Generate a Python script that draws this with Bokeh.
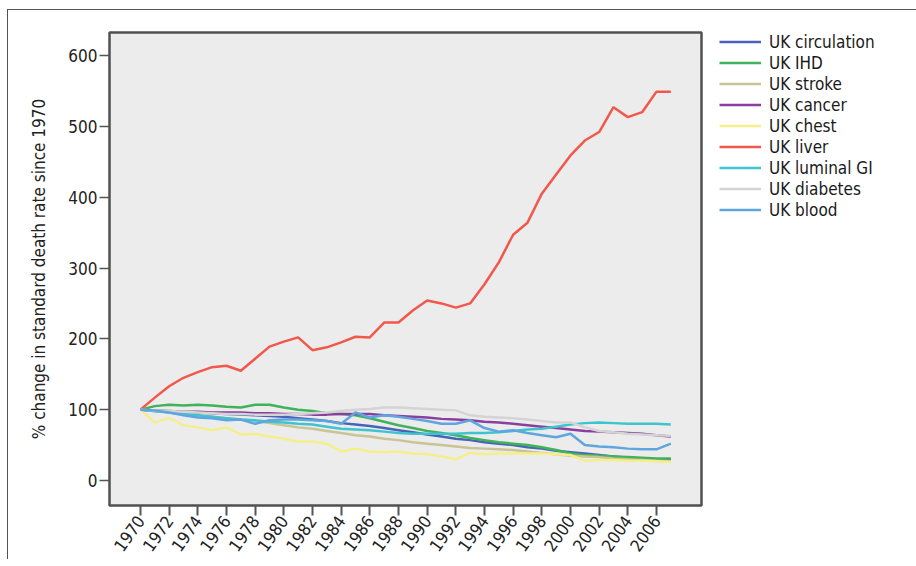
import math
from bokeh.plotting import figure
from bokeh.models import Legend, LegendItem, FixedTicker, Range1d
from bokeh.embed import file_html
from bokeh.resources import INLINE

years = list(range(1970, 2008))

circulation = [100, 98, 97, 96, 96, 95, 94, 93, 92, 91, 90, 88, 86, 84, 81, 79, 77, 74, 71, 68,
               65, 62, 59, 57, 54, 52, 50, 47, 45, 42, 40, 38, 36, 34, 32, 31, 30, 30]
ihd = [100, 105, 107, 106, 107, 106, 104, 103, 107, 107, 103, 100, 98, 95, 94, 92, 88, 83, 78, 74,
       70, 67, 64, 60, 57, 54, 52, 50, 47, 43, 38, 36, 35, 34, 33, 32, 31, 31]
stroke = [100, 98, 96, 94, 92, 90, 88, 86, 84, 81, 78, 75, 73, 70, 67, 64, 62, 59, 57, 54,
          52, 50, 48, 46, 45, 44, 43, 41, 39, 37, 35, 34, 33, 31, 30, 29, 28, 27]
cancer = [100, 99, 98, 97, 97, 96, 96, 96, 95, 95, 94, 94, 93, 93, 94, 94, 94, 92, 91, 90,
          89, 87, 86, 85, 83, 82, 80, 78, 76, 74, 72, 70, 69, 68, 67, 66, 64, 62]
chest = [100, 82, 88, 78, 75, 71, 75, 65, 66, 62, 59, 55, 55, 52, 41, 45, 41, 40, 41, 38,
         37, 34, 30, 39, 37, 38, 38, 38, 38, 37, 36, 28, 29, 29, 28, 28, 27, 26]
liver = [100, 117, 133, 145, 153, 160, 162, 155, 172, 189, 196, 202, 184, 188, 195, 203, 202, 223, 223, 240,
         254, 250, 244, 250, 277, 308, 347, 364, 405, 432, 459, 480, 492, 527, 513, 520, 549, 549]
luminal_gi = [100, 98, 96, 94, 92, 90, 88, 86, 85, 83, 82, 80, 79, 76, 73, 72, 71, 69, 67, 66,
              66, 66, 66, 67, 67, 68, 70, 72, 73, 76, 79, 81, 82, 81, 80, 80, 80, 79]
diabetes = [100, 99, 98, 97, 96, 95, 94, 94, 93, 93, 93, 94, 95, 96, 98, 100, 101, 103, 103, 102,
            101, 100, 99, 92, 90, 89, 88, 86, 84, 82, 82, 75, 70, 68, 66, 65, 64, 63]
blood = [100, 99, 96, 92, 89, 88, 85, 86, 80, 85, 86, 86, 85, 84, 80, 96, 89, 92, 90, 87,
         84, 80, 80, 85, 74, 69, 71, 67, 64, 61, 66, 50, 48, 47, 45, 44, 44, 52]

series_names = ["UK circulation", "UK IHD", "UK stroke", "UK cancer", "UK chest",
                "UK liver", "UK luminal GI", "UK diabetes", "UK blood"]
series_values = [circulation, ihd, stroke, cancer, chest, liver, luminal_gi, diabetes, blood]
series_colors = ["#4a62b8", "#3fb35a", "#c9c395", "#8a3fa0", "#f4ef8a",
                 "#f2574c", "#3ec4cc", "#d4d4d4", "#5fa6df"]

x_ticks = list(range(1970, 2007, 2))
y_ticks = [0, 100, 200, 300, 400, 500, 600]
y_label = "% change in standard death rate since 1970"

FONT = "'Liberation Sans Narrow', 'DejaVu Sans Condensed', 'Roboto', sans-serif"

p = figure(width=909, height=557, output_backend="svg", toolbar_location=None,
           x_range=Range1d(1967.84, 2009.14), y_range=Range1d(-35.3, 632.5),
           min_border_left=101, min_border_right=216, min_border_top=22, min_border_bottom=52)
p.styles = {"border-left": "1.5px solid #555", "border-top": "1.5px solid #555",
            "margin-left": "7px", "margin-top": "9px"}
p.frame_width = 592
p.frame_height = 473

p.background_fill_color = "#ececec"
p.border_fill_color = "white"
p.outline_line_color = "#505050"
p.outline_line_width = 2.5
p.xgrid.visible = False
p.ygrid.visible = False

renderers = []
for name, vals, col in zip(series_names, series_values, series_colors):
    r = p.line(years, vals, line_color=col, line_width=2.5)
    renderers.append((name, r))

p.xaxis.ticker = FixedTicker(ticks=x_ticks)
p.xaxis.minor_tick_line_color = None
p.xaxis.major_tick_out = 10
p.xaxis.major_tick_in = 0
p.xaxis.major_label_orientation = 0.95
p.xaxis.major_label_text_font = FONT
p.xaxis.major_label_text_font_size = "17px"
p.xaxis.major_label_text_color = "#222222"
p.xaxis.axis_line_color = None
p.xaxis.major_tick_line_color = "#555555"
p.xaxis.major_tick_line_width = 2
p.xaxis.major_label_standoff = 2

p.yaxis.ticker = FixedTicker(ticks=y_ticks)
p.yaxis.minor_tick_line_color = None
p.yaxis.major_tick_out = 10
p.yaxis.major_tick_in = 0
p.yaxis.major_label_text_font = FONT
p.yaxis.major_label_text_font_size = "17px"
p.yaxis.major_label_text_color = "#222222"
p.yaxis.axis_line_color = None
p.yaxis.major_tick_line_color = "#555555"
p.yaxis.major_tick_line_width = 1.5
p.yaxis.major_label_standoff = 2
p.yaxis.axis_label = y_label
p.yaxis.axis_label_text_font = FONT
p.yaxis.axis_label_text_font_size = "17px"
p.yaxis.axis_label_text_font_style = "normal"
p.yaxis.axis_label_text_color = "#222222"
p.yaxis.axis_label_standoff = 16

legend = Legend(items=[LegendItem(label=n, renderers=[r]) for n, r in renderers],
                location=(18, 285), padding=0, spacing=0, margin=0,
                glyph_width=42, glyph_height=21, label_height=21, label_standoff=8,
                label_text_font=FONT, label_text_font_size="17px", label_text_color="#1a1a1a",
                border_line_color=None, background_fill_alpha=0)
p.add_layout(legend, "right")

open("out.html", "w").write(file_html(p, INLINE))
